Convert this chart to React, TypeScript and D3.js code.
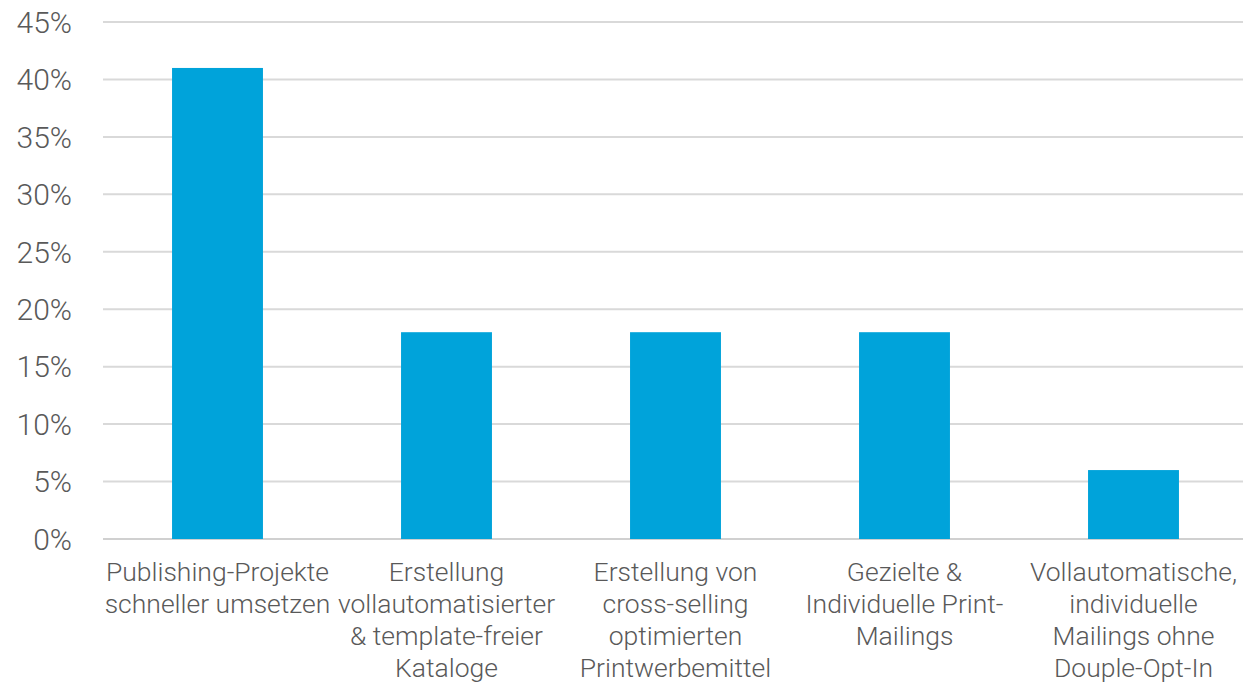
import React, { useEffect, useRef } from 'react';
import * as d3 from 'd3';

const CATEGORIES = [
  ['Publishing-Projekte', 'schneller umsetzen'],
  ['Erstellung', 'vollautomatisierter', '& template-freier', 'Kataloge'],
  ['Erstellung von', 'cross-selling', 'optimierten', 'Printwerbemittel'],
  ['Gezielte &', 'Individuelle Print-', 'Mailings'],
  ['Vollautomatische,', 'individuelle', 'Mailings ohne', 'Douple-Opt-In'],
];
const VALUES = [0.41, 0.18, 0.18, 0.18, 0.06];
const Y_TICKS = [0, 0.05, 0.1, 0.15, 0.2, 0.25, 0.3, 0.35, 0.4, 0.45];

const FONT = 'Roboto, "Noto Sans", sans-serif';
const TEXT_COLOR = '#595959';
const BAR_COLOR = '#00A3DA';

const App: React.FC = () => {
  const svgRef = useRef<SVGSVGElement>(null);

  useEffect(() => {
    if (!svgRef.current) return;
    const width = 1243;
    const height = 682;
    const margin = { top: 22, right: 0, bottom: 143, left: 103 };
    const innerW = width - margin.left - margin.right;
    const innerH = height - margin.top - margin.bottom;

    const svg = d3.select(svgRef.current);
    svg.selectAll('*').remove();

    const g = svg.append('g').attr('transform', `translate(${margin.left},${margin.top})`);

    // category step in the original is a touch wider than innerW / 5
    const x = d3
      .scaleBand<number>()
      .domain(VALUES.map((_, i) => i))
      .range([0, 1145])
      .paddingInner(0.603)
      .paddingOuter(0.3015);

    const y = d3.scaleLinear().domain([0, 0.45]).range([innerH, 0]);

    g.selectAll('line.grid')
      .data(Y_TICKS)
      .join('line')
      .attr('class', 'grid')
      .attr('x1', 0)
      .attr('x2', innerW)
      .attr('y1', (d) => y(d))
      .attr('y2', (d) => y(d))
      .attr('stroke', (d) => (d === 0 ? '#d0d0d0' : '#d9d9d9'))
      .attr('stroke-width', 2);

    g.selectAll('rect.bar')
      .data(VALUES)
      .join('rect')
      .attr('class', 'bar')
      .attr('x', (_, i) => x(i) ?? 0)
      .attr('y', (d) => y(d))
      .attr('width', x.bandwidth())
      .attr('height', (d) => innerH - y(d))
      .attr('fill', BAR_COLOR);

    g.selectAll('text.ytick')
      .data(Y_TICKS)
      .join('text')
      .attr('class', 'ytick')
      .attr('x', -31)
      .attr('y', (d) => y(d))
      .attr('dy', '0.36em')
      .attr('text-anchor', 'end')
      .attr('font-family', FONT)
      .attr('font-weight', 300)
      .attr('font-size', '30px')
      .attr('fill', TEXT_COLOR)
      .text((d) => `${Math.round(d * 100)}%`);

    CATEGORIES.forEach((lines, i) => {
      const cx = (x(i) ?? 0) + x.bandwidth() / 2;
      const t = g
        .append('text')
        .attr('text-anchor', 'middle')
        .attr('font-family', FONT)
        .attr('font-weight', 300)
        .attr('font-size', '26.5px')
        .attr('fill', TEXT_COLOR);
      lines.forEach((line, j) => {
        t.append('tspan')
          .attr('x', cx)
          .attr('y', innerH + 42 + j * 32)
          .text(line);
      });
    });
  }, []);

  return (
    <svg
      ref={svgRef}
      width={1243}
      height={682}
      style={{ position: 'absolute', left: 0, top: 0, background: '#fff' }}
    />
  );
};

export default App;
